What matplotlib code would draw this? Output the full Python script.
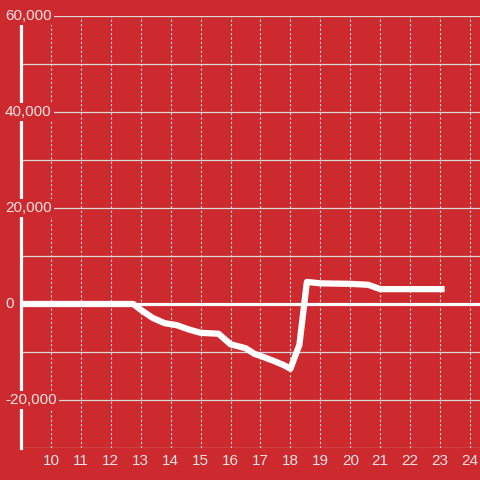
import matplotlib
matplotlib.use("Agg")
import matplotlib.pyplot as plt
from matplotlib.transforms import blended_transform_factory

# Data
x_vals = [9.0, 10, 11, 12, 12.75, 13.0, 13.4, 13.8, 14.2, 14.6, 15.0, 15.6, 16.0,
          16.5, 16.8, 17.0, 17.5, 17.8, 18.0, 18.3, 18.55, 19.0, 20.0, 20.6, 21.0, 22.0, 23.15]
y_vals = [0, 0, 0, 0, 0, -1200, -2900, -4000, -4400, -5300, -6000, -6200, -8400,
          -9200, -10400, -10800, -12000, -12800, -13500, -8500, 4600, 4300, 4200,
          4000, 3100, 3100, 3100]
x_ticks = list(range(10, 25))
y_grid = list(range(-30000, 60001, 10000))
y_labeled = [60000, 40000, 20000, 0, -20000]

BG = "#cc2a2e"
GRID = "#d9d9d9"
TXT = "#f3e4e4"

plt.rcParams['font.family'] = ['Liberation Sans', 'DejaVu Sans']

fig = plt.figure(figsize=(4.8, 4.8), dpi=100, facecolor=BG)
ax = fig.add_axes([21/480, 1-448/480, 1-21/480, (448-16)/480])
ax.set_facecolor(BG)

ax.set_xlim(9.0, 10 + (480-50)/30)
ax.set_ylim(-30000, 60000)

for s in ['top', 'right', 'bottom']:
    ax.spines[s].set_visible(False)
ax.spines['left'].set_color('white')
ax.spines['left'].set_linewidth(2.3)
ax.spines['left'].set_zorder(3)

# grid
for yv in y_grid:
    if yv == 0:
        continue
    ax.axhline(yv, color=GRID, lw=0.9, zorder=1)
for xv in x_ticks:
    ax.axvline(xv, color=GRID, lw=0.8, ls=(0, (2, 2)), zorder=1)
ax.axhline(0, color='white', lw=2.3, zorder=2)

ax.plot(x_vals, y_vals, color='white', lw=4.5, solid_joinstyle='round',
        solid_capstyle='butt', zorder=4)

ax.set_xticks(x_ticks)
ax.set_xticklabels([str(v) for v in x_ticks])
ax.tick_params(axis='x', length=0, pad=4, labelsize=11, labelcolor=TXT)
ax.set_yticks([])

tr = blended_transform_factory(fig.transFigure, ax.transData)
for yv in y_labeled:
    ax.text(5/480, yv, f"{yv:,}", transform=tr, ha='left', va='center',
            fontsize=11, color=TXT, zorder=6, clip_on=False,
            bbox=dict(facecolor=BG, edgecolor='none', pad=1.5))

fig.savefig("out.png", dpi=100, facecolor=BG)
